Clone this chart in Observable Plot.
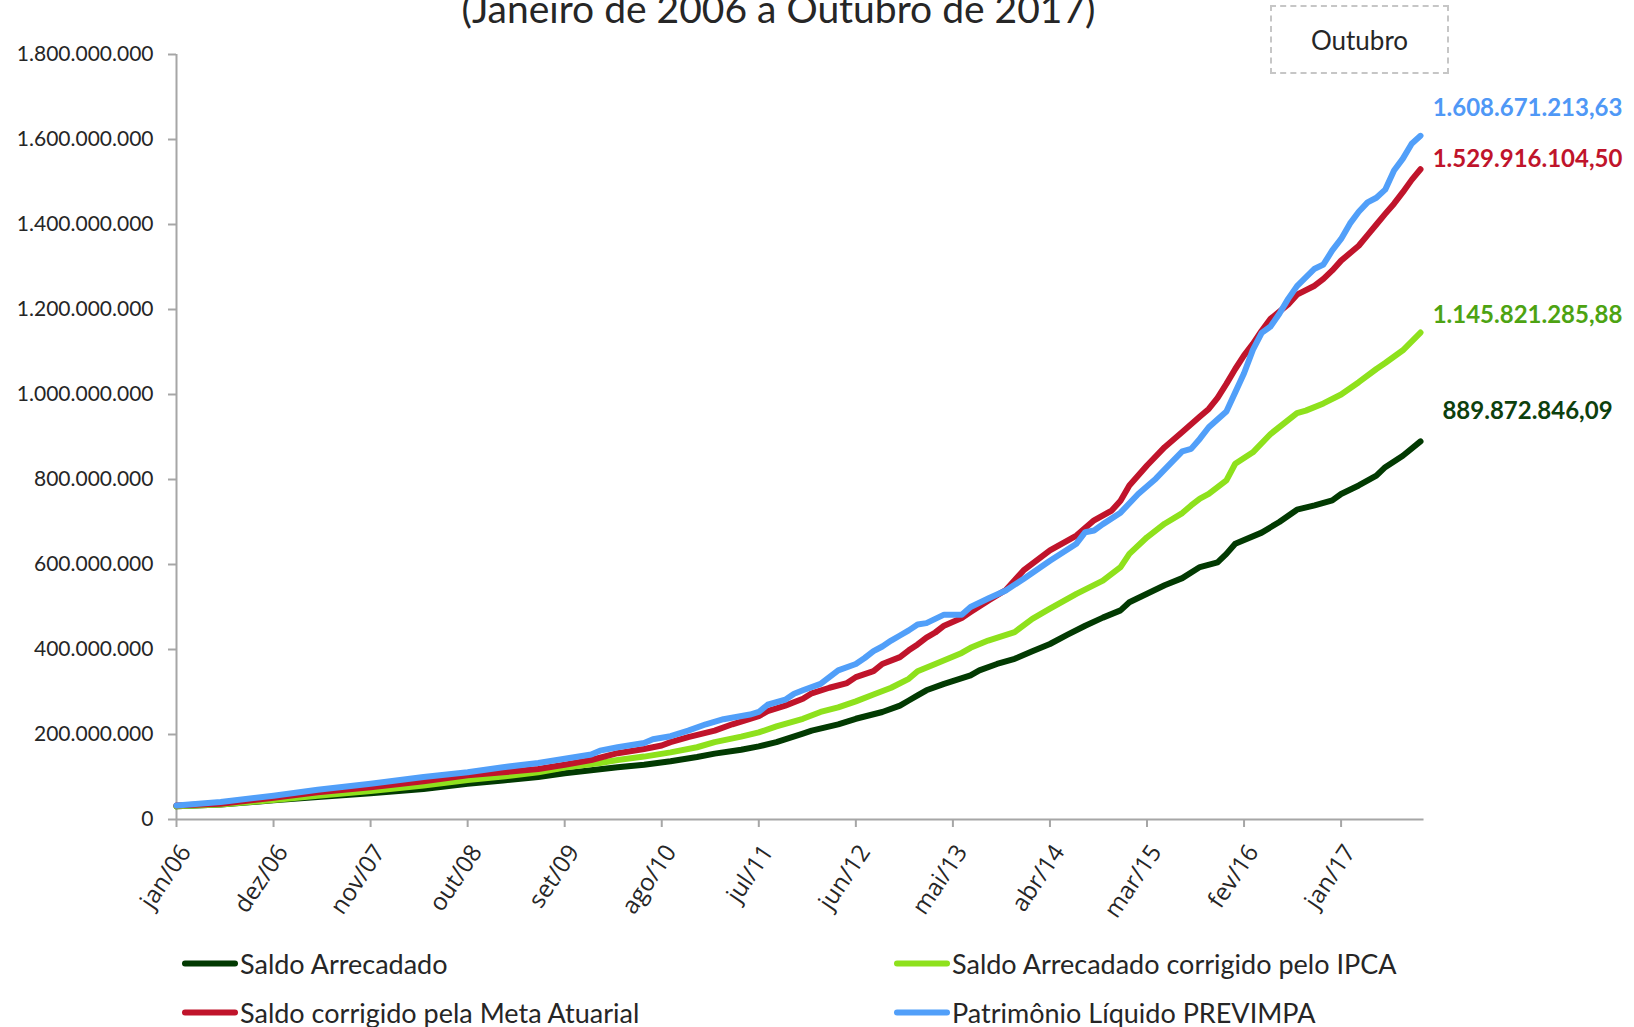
<!DOCTYPE html>
<html><head><meta charset="utf-8">
<script src="https://cdn.jsdelivr.net/npm/d3@7"></script>
<script src="https://cdn.jsdelivr.net/npm/@observablehq/plot@0.6"></script>
<style>
html,body{margin:0;padding:0;background:#fff;}
#wrap{position:relative;width:1634px;height:1027px;overflow:hidden;font-family:Lato,sans-serif;color:#262626;}
#title{position:absolute;left:0;width:1557px;text-align:center;top:-15px;font-size:39px;white-space:nowrap;z-index:2;}
#box{position:absolute;left:1270px;top:5px;width:179px;height:69px;box-sizing:border-box;border:2px dashed #c6c6c6;display:flex;align-items:center;justify-content:center;font-size:26px;z-index:2;}
#chart{position:absolute;left:0;top:0;}
.leg{position:absolute;display:flex;align-items:center;font-size:27px;white-space:nowrap;transform:translateY(-50%);}
.sw{display:inline-block;width:56px;height:6px;border-radius:3px;margin-right:2px;}
</style></head>
<body><div id="wrap">
<div id="title">(Janeiro de 2006 a Outubro de 2017)</div>
<div id="box">Outubro</div>
<div id="chart"></div>
<div id="legend"></div>
</div>
<script>
// month index 0 = jan/06 ... 141 = out/17 ; values in millions of R$
const arrecadadoMonths = [0,5,11,16,22,28,33,37,41,44,47,50,53,56,59,61,64,66,68,71,72,75,77,80,82,83,84,85,87,90,91,93,95,97,99,101,103,105,107,108,110,112,114,116,118,119,120,123,125,127,129,131,132,134,136,137,139,141];
const arrecadadoValues = [31,35,45,53,62,72,84,92,100,109,116,123,129,137,147,155,164,172,182,202,209,224,237,253,268,280,292,304,319,339,351,366,378,396,413,435,456,475,492,511,531,551,568,594,605,625,649,675,700,729,739,751,766,786,809,829,856,889.87284609];

const ipcaMonths = [0,5,11,16,22,28,33,37,41,44,48,50,53,56,59,61,64,66,68,71,73,75,77,79,81,83,84,86,89,90,92,95,97,99,102,105,107,108,110,112,114,115,116,117,119,120,122,124,127,128,130,132,134,136,137,139,141];
const ipcaValues = [31,35,46,56,67,80,93,101,111,122,133,140,148,158,170,182,195,205,219,237,253,264,278,294,310,331,349,366,392,404,421,441,472,496,531,562,594,625,664,696,721,739,755,766,798,837,864,907,956,962,979,1000,1029,1060,1074,1104,1145.82128588];

const metaMonths = [0,5,11,16,22,28,33,37,41,44,47,50,53,55,56,58,61,63,65,66,67,69,71,72,74,76,77,79,80,82,83,84,85,86,87,89,90,92,94,96,99,102,104,106,107,108,110,112,114,116,117,118,119,120,121,122,123,124,126,127,129,130,131,132,134,135,136,137,138,139,140,141];
const metaValues = [33,37,51,64,76,90,104,111,119,129,140,156,166,174,182,194,209,224,237,243,255,268,284,297,310,321,335,349,366,382,398,412,428,440,456,474,488,515,540,586,633,668,704,727,750,786,833,876,912,948,966,992,1025,1060,1092,1119,1150,1178,1212,1235,1256,1272,1292,1315,1350,1375,1400,1425,1449,1476,1505,1529.9161045];

const patrimonioMonths = [0,5,11,16,22,28,33,37,41,44,47,48,50,53,54,56,58,60,62,65,66,67,69,70,71,73,74,75,77,78,79,80,81,82,83,84,85,86,87,89,90,92,94,96,99,102,103,104,105,107,109,111,113,114,115,116,117,119,120,121,122,123,124,125,126,127,129,130,131,132,133,134,135,136,137,138,139,140,141];
const patrimonioValues = [33,41,56,70,84,100,111,123,133,143,153,162,170,180,189,196,209,224,236,247,253,270,282,296,304,319,335,351,366,380,396,407,421,433,445,459,462,472,482,482,500,520,539,566,609,649,676,680,695,722,766,802,845,866,872,896,923,960,1005,1050,1105,1145,1160,1190,1225,1255,1296,1306,1339,1366,1402,1430,1452,1463,1482,1527,1555,1590,1608.67121363];

const seriesNames = ["Saldo Arrecadado","Saldo Arrecadado corrigido pelo IPCA","Saldo corrigido pela Meta Atuarial","Patrimônio Líquido PREVIMPA"];
const seriesColors = ["#023a02","#8ee11c","#c0142b","#519ff9"];
const labelColors = ["#0d400d","#4da312","#c0142b","#4f98f6"];

const tickMonths = [0,11,22,33,44,55,66,77,88,99,110,121,132];
const tickLabels = ["jan/06","dez/06","nov/07","out/08","set/09","ago/10","jul/11","jun/12","mai/13","abr/14","mar/15","fev/16","jan/17"];
const yTicks = [0,200e6,400e6,600e6,800e6,1000e6,1200e6,1400e6,1600e6,1800e6];

const loc = d3.formatLocale({decimal: ",", thousands: ".", grouping: [3], currency: ["R$", ""]});
const fmtInt = loc.format(",.0f");
const fmtDec = loc.format(",.2f");

const allMonths = [arrecadadoMonths, ipcaMonths, metaMonths, patrimonioMonths];
const allValues = [arrecadadoValues, ipcaValues, metaValues, patrimonioValues];
const series = seriesNames.map((name, k) => allMonths[k].map((m, i) => ({m, v: allValues[k][i] * 1e6, name})));
const labelDy = [-30, -17, -10, -28];

const marks = [
  Plot.ruleX([0], {y1: 0, y2: 1.8e9, stroke: "#a6a6a6", strokeWidth: 2}),
  Plot.ruleY([0], {x1: 0, x2: 141.4, stroke: "#a6a6a6", strokeWidth: 2}),
  Plot.axisY(yTicks, {label: null, tickFormat: fmtInt, tickSize: 8, tickPadding: 15, fontSize: 21, stroke: "#a6a6a6", strokeWidth: 2, fill: "#262626"}),
  Plot.axisX(tickMonths, {label: null, tickFormat: () => "", tickSize: 8, stroke: "#a6a6a6", strokeWidth: 2}),
  Plot.axisX(tickMonths, {label: null, tickFormat: d => tickLabels[tickMonths.indexOf(d)], tickSize: 0, tickPadding: 28, dx: 9, tickRotate: -56, fontSize: 24, fontFamily: "'Open Sans'", fill: "#262626"})
];
series.forEach((rows, k) => {
  marks.push(Plot.line(rows, {x: "m", y: "v", stroke: seriesColors[k], strokeWidth: 6, strokeLinecap: "round", strokeLinejoin: "round"}));
});
series.forEach((rows, k) => {
  const last = rows[rows.length - 1];
  marks.push(Plot.text([last], {x: "m", y: "v", text: d => fmtDec(d.v), dx: 107, dy: labelDy[k], fill: labelColors[k], fontWeight: "bold", fontSize: 24, textAnchor: "middle"}));
});

const chart = Plot.plot({
  width: 1634, height: 930,
  marginLeft: 176, marginRight: 214, marginTop: 54, marginBottom: 111,
  x: {domain: [0, 141], axis: null},
  y: {domain: [0, 1.8e9], axis: null},
  style: {fontFamily: "Lato, sans-serif", background: "transparent", overflow: "visible"},
  marks
});
document.getElementById("chart").appendChild(chart);

const legend = document.getElementById("legend");
const legLeft = [182, 894], legTop = [963, 1012];
seriesNames.forEach((name, k) => {
  const d = document.createElement("div");
  d.className = "leg";
  d.style.left = legLeft[k % 2] + "px";
  d.style.top = legTop[Math.floor(k / 2)] + "px";
  const s = document.createElement("span");
  s.className = "sw"; s.style.background = seriesColors[k];
  d.appendChild(s);
  d.appendChild(document.createTextNode(name));
  legend.appendChild(d);
});
</script>
</body></html>
